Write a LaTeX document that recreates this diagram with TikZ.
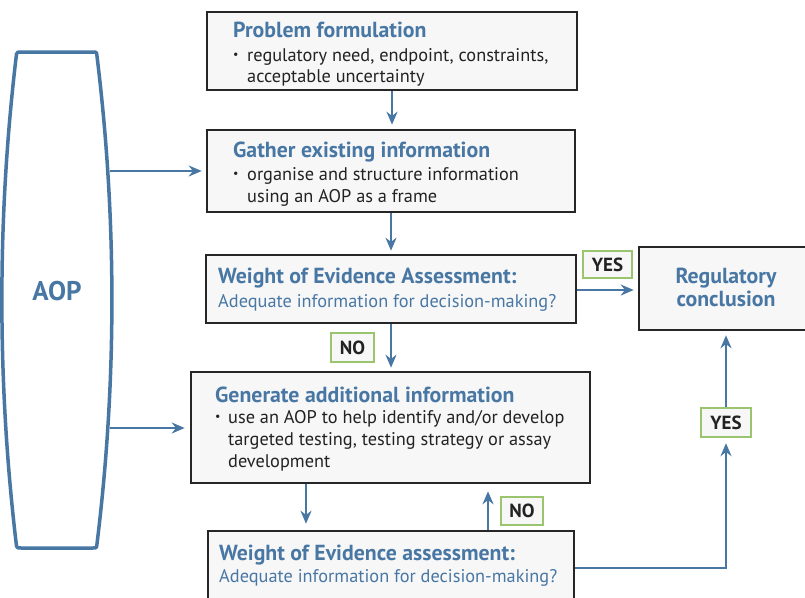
\documentclass[tikz,border=0pt]{standalone}
\usepackage{fontspec}
\setmainfont{PT Sans}
\usetikzlibrary{arrows.meta}
\definecolor{aopblue}{RGB}{72,119,163}
\definecolor{boxfill}{RGB}{247,247,248}
\definecolor{boxdraw}{RGB}{38,38,38}
\definecolor{labgreen}{RGB}{155,196,110}
\definecolor{textdark}{RGB}{34,34,34}
\begin{document}
\begin{tikzpicture}[x=1pt,y=-1pt,
 box/.style={draw=boxdraw, line width=2.6pt, fill=boxfill, inner sep=0pt},
 lab/.style={draw=labgreen, line width=2.4pt, fill=boxfill, inner sep=0pt, font=\fontsize{19}{19}\selectfont\bfseries, text=textdark},
 arr/.style={draw=aopblue, line width=2pt, -{Stealth[length=13pt,width=11pt]}},
 ttl/.style={anchor=base west, text=aopblue, font=\fontsize{21.8}{24}\selectfont\bfseries, inner sep=0pt},
 bdy/.style={anchor=base west, text=textdark, font=\fontsize{18.3}{20}\selectfont, inner sep=0pt},
 qst/.style={anchor=base west, text=aopblue, font=\fontsize{18.3}{20}\selectfont, inner sep=0pt},
 bul/.style={anchor=base west, text=textdark, font=\fontsize{12}{12}\selectfont, inner sep=0pt, yshift=2.5pt},
]
\useasboundingbox (0,0) rectangle (805,597);
\clip (0,0) rectangle (805,597);
\fill[white] (0,0) rectangle (805,597);

% AOP shape
\draw[aopblue, line width=3.5pt, line join=round]
  (21,52) -- (93,52) .. controls (95,52) and (96,52) .. (96.6,53)
  .. controls (117,217) and (117,383) .. (96.6,547)
  .. controls (96,548) and (95,548) .. (93,548)
  -- (21,548) .. controls (18,548) and (17,548) .. (16.5,546)
  .. controls (-3,383) and (-3,217) .. (16.5,54)
  .. controls (17,52) and (18,52) .. (21,52) -- cycle;
\node[text=aopblue, font=\fontsize{27}{27}\selectfont\bfseries, anchor=base, inner sep=0pt] (aop) at (57,300) {AOP};
\coordinate (aopA) at (110,171);
\coordinate (aopB) at (110,428);

% boxes
\node[box, minimum width=370pt, minimum height=78pt] (pf) at (392,51) {};
\node[box, minimum width=368pt, minimum height=82pt] (gather) at (391,171) {};
\node[box, minimum width=370pt, minimum height=68pt] (woe1) at (391,289) {};
\node[box, minimum width=399pt, minimum height=111pt] (gen) at (390.5,427.5) {};
\node[box, minimum width=366pt, minimum height=89pt] (woe2) at (391,575.5) {};
\node[box, minimum width=176pt, minimum height=83pt] (reg) at (727,288.5) {};

% texts
\node[ttl] (pft) at (233,37) {Problem formulation};
\node[bul] (pfb) at (233,61) {•};
\node[bdy] (pf1) at (247,61) {regulatory need, endpoint, constraints,};
\node[bdy] (pf2) at (247,82) {acceptable uncertainty};

\node[ttl] (gat) at (233,157) {Gather existing information};
\node[bul] (gab) at (233,180) {•};
\node[bdy] (ga1) at (247,180) {organise and structure information};
\node[bdy] (ga2) at (247,202) {using an AOP as a frame};

\node[ttl] (w1t) at (218,283) {Weight of Evidence Assessment:};
\node[qst] (w1q) at (218,307) {Adequate information for decision-making?};

\node[ttl] (gnt) at (215,402) {Generate additional information};
\node[bul] (gnb) at (215,423) {•};
\node[bdy] (gn1) at (228,423) {use an AOP to help identify and/or develop};
\node[bdy] (gn2) at (228,445) {targeted testing, testing strategy or assay};
\node[bdy] (gn3) at (228,467) {development};

\node[ttl] (w2t) at (219,560) {Weight of Evidence assessment:};
\node[qst] (w2q) at (219,582) {Adequate information for decision-making?};

\node[ttl, anchor=base] (rg1) at (726,283) {Regulatory};
\node[ttl, anchor=base] (rg2) at (726,306) {conclusion};

% labels
\node[lab, minimum width=49pt, minimum height=27pt] (yes1) at (607.5,264.5) {YES};
\node[lab, minimum width=43pt, minimum height=29pt] (no1) at (352.5,347.5) {NO};
\node[lab, minimum width=42pt, minimum height=28pt] (no2) at (522,511) {NO};
\node[lab, minimum width=50pt, minimum height=29pt] (yes2) at (726,422.5) {YES};

% connectors
\draw[arr, shorten >=4pt] (aopA) -- (aopA -| gather.west);
\draw[arr, shorten >=5pt] (aopB) -- (aopB -| gen.west);
\draw[arr, shorten >=4pt] (pf.south) -- (pf.south |- gather.north);
\draw[arr, shorten >=3pt] (gather.south) -- (gather.south |- woe1.north);
\draw[arr, shorten >=3pt] (woe1.south) -- (woe1.south |- gen.north);
\draw[arr, shorten >=4pt] ([yshift=-1pt]woe1.east) -- ([yshift=-1pt]woe1.east -| reg.west);
\draw[arr, shorten >=6pt] ([xshift=-84.5pt]gen.south) -- ([xshift=-84.5pt]gen.south |- woe2.north);
\draw[arr, shorten >=7pt] ([xshift=97pt]woe2.north) -- ([xshift=97pt]woe2.north |- gen.south);
\draw[arr, shorten >=5pt] ([yshift=7.5pt]woe2.east) -| (yes2.south);
\draw[arr, shorten >=4pt] (yes2.north) -- (yes2.north |- reg.south);
\end{tikzpicture}
\end{document}
